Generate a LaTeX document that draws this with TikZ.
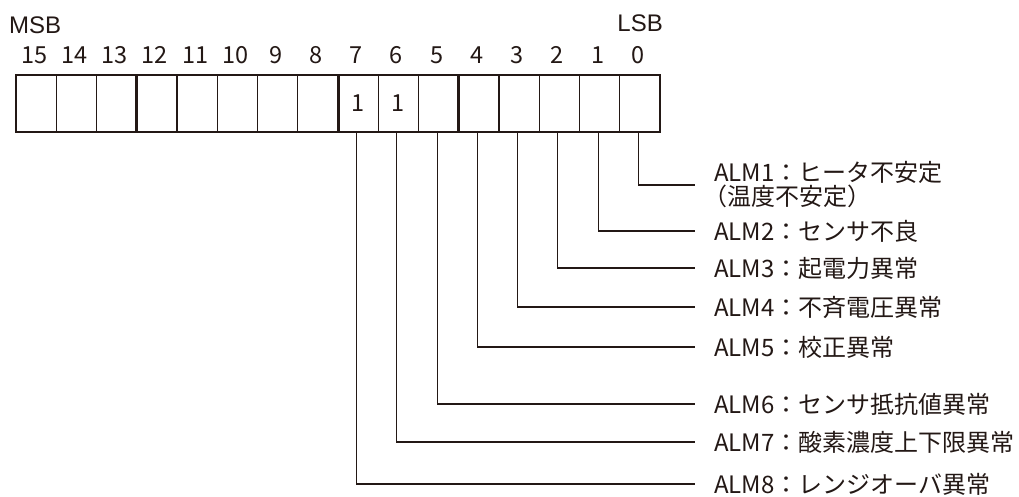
\documentclass[tikz,border=0pt]{standalone}
\usepackage{fontspec}
\newfontfamily\jp{Noto Sans CJK JP}
\newfontfamily\lat{Liberation Sans}
\definecolor{ink}{RGB}{35,24,21}
\begin{document}
\begin{tikzpicture}[x=1pt,y=-1pt,
  cell/.style={draw=ink,line width=1.1pt,minimum width=40.25pt,minimum height=57pt,inner sep=0pt,
    font=\jp\fontsize{23.5}{25}\selectfont,text=ink},
  bitnum/.style={inner sep=0pt,font=\jp\fontsize{23.5}{25}\selectfont,text=ink},
  edge/.style={font=\lat\fontsize{24}{26}\selectfont,text=ink,inner sep=0pt},
  alm/.style={anchor=west,inner sep=0pt,align=left,font=\jp\fontsize{24}{25}\selectfont,text=ink},
  conn/.style={draw=ink,line width=1.1pt,shorten >=19pt},
  nibble/.style={draw=ink,line width=2.6pt}]
\useasboundingbox (0,0) rectangle (1019,497);
% register cells
\foreach \i in {0,...,15}{
  \node[cell] (c\i) at ({660-40.25*(\i+0.5)},103.5) {};
  \node[bitnum] (n\i) at ({660-40.25*(\i+0.5)-2},55) {\i};
}
\node[cell] at (c7.center) {1};
\node[cell] at (c6.center) {1};
\draw[draw=ink,line width=1.6pt] (c15.north west) rectangle (c0.south east);
\draw[nibble] (c12.north west) -- (c12.south west);
\draw[nibble] (c8.north east) -- (c8.south east);
\draw[nibble] (c4.north west) -- (c4.south west);
% MSB / LSB
\node[edge,anchor=west] (msb) at (9,25) {MSB};
\node[edge,anchor=east] (lsb) at (663,23) {LSB};
% alarm labels
\node[alm] (a0) at (714,185) {ALM1：ヒータ不安定\\[-1pt]\kern-.45em（温度不安定）};
\node[alm] (a1) at (714,231) {ALM2：センサ不良};
\node[alm] (a2) at (714,268) {ALM3：起電力異常};
\node[alm] (a3) at (714,307) {ALM4：不斉電圧異常};
\node[alm] (a4) at (714,347) {ALM5：校正異常};
\node[alm] (a5) at (714,404) {ALM6：センサ抵抗値異常};
\node[alm] (a6) at (714,442) {ALM7：酸素濃度上下限異常};
\node[alm] (a7) at (714,484) {ALM8：レンジオーバ異常};
% connectors
\foreach \i in {0,...,7}{
  \draw[conn] ([xshift=-1.5pt]c\i.south) |- (a\i.west);
}
\end{tikzpicture}
\end{document}
